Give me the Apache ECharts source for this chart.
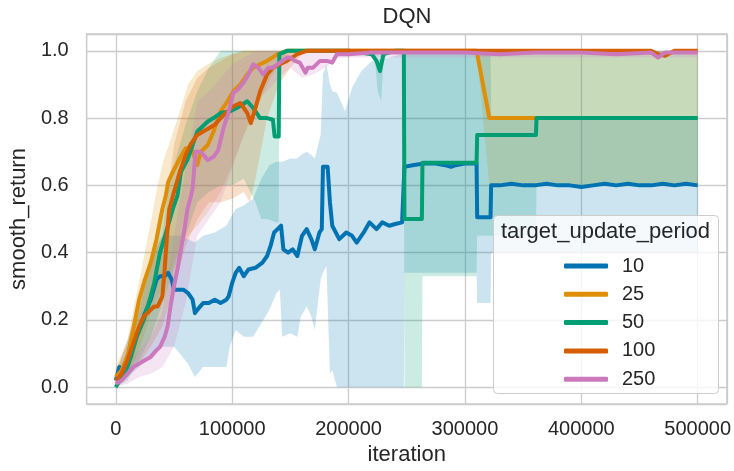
<!DOCTYPE html>
<html>
<head>
<meta charset="utf-8">
<script src="https://cdn.jsdelivr.net/npm/echarts@6/dist/echarts.min.js"></script>
<style>html,body{margin:0;padding:0;background:#fff}#c{width:734px;height:471px}</style>
</head>
<body>
<div id="c"></div>
<script>
// ---- data (iterations in thousands) ----
const seriesNames = ['10', '25', '50', '100', '250'];
const colors = ['#0173b2', '#de8f05', '#029e73', '#d55e00', '#cc78bc'];
const xTicks = [0, 100000, 200000, 300000, 400000, 500000];
const yTicks = [0.0, 0.2, 0.4, 0.6, 0.8, 1.0];

// target_update_period = 10
const x10k = [0,3,6,10,15,20,25,30,35,38,42,45,48,50,53,58,62,66,68,70,75,80,85,90,95,97,100,103,106,110,114,120,126,130,133,136,139,142,144,148,152,156,160,164,168,171,175,177,178,182,184,186,192,198,203,207,213,218,224,229,235,240,246,247.5,248,255,265,275,283,288,292,300,305,310,310.5,315,322,322.5,330,340,350,360,370,380,390,400,410,420,430,440,450,460,470,480,490,500];
const y10 = [0.02,0.06,0.05,0.09,0.13,0.17,0.22,0.26,0.32,0.33,0.33,0.34,0.32,0.29,0.29,0.29,0.28,0.26,0.22,0.23,0.25,0.25,0.26,0.25,0.26,0.27,0.31,0.34,0.355,0.33,0.35,0.355,0.37,0.39,0.42,0.46,0.47,0.48,0.41,0.40,0.41,0.39,0.45,0.47,0.44,0.41,0.46,0.47,0.655,0.655,0.55,0.48,0.44,0.46,0.45,0.43,0.46,0.49,0.47,0.49,0.48,0.485,0.49,0.495,0.655,0.66,0.665,0.665,0.66,0.655,0.66,0.665,0.665,0.665,0.505,0.505,0.505,0.60,0.60,0.605,0.60,0.60,0.605,0.60,0.60,0.595,0.60,0.605,0.60,0.605,0.60,0.60,0.605,0.60,0.605,0.60];
const bx10k = [0,10,20,30,40,50,55,62,68,75,85,95,98,103,110,118,125,132,138,141,143,150,156,159,164,168,171,176,178,181,184,186,190,197,203,211,220,235,245,247.5,248,310,310.5,322,322.5,500];
const hi10 = [0.04,0.14,0.25,0.38,0.45,0.45,0.45,0.44,0.43,0.45,0.46,0.48,0.50,0.53,0.54,0.56,0.62,0.66,0.67,0.67,0.67,0.68,0.68,0.69,0.70,0.69,0.68,0.75,0.93,0.96,0.90,0.88,0.875,0.82,0.89,0.94,0.97,0.98,0.99,0.99,1.0,1.0,1.0,1.0,0.8,0.8];
const lo10 = [0.0,0.03,0.06,0.09,0.12,0.12,0.10,0.07,0.03,0.06,0.06,0.06,0.12,0.17,0.15,0.15,0.19,0.23,0.28,0.29,0.15,0.16,0.15,0.21,0.24,0.21,0.17,0.32,0.34,0.36,0.04,0.05,0.0,0.0,0.0,0.0,0.0,0.0,0.0,0.0,0.34,0.34,0.25,0.25,0.40,0.40];

// target_update_period = 25
const x25k = [0,5,10,13,15,20,25,30,35,40,43,45,49,55,60,65,68,70,73,79,84,90,96,101,107,113,118,124,130,139,147,160,200,250,300,310,321,330,400,500];
const y25 = [0.03,0.05,0.09,0.14,0.17,0.26,0.32,0.37,0.44,0.53,0.57,0.61,0.64,0.68,0.71,0.71,0.68,0.66,0.70,0.72,0.76,0.82,0.85,0.88,0.90,0.93,0.95,0.96,0.97,0.99,1.0,1.0,1.0,1.0,1.0,1.0,0.80,0.80,0.80,0.80];
const bx25k = [0,10,15,21,30,36,41,47,56,62,70,79,90,100,110,120,130,140,150,160,310,321,500];
const hi25 = [0.06,0.14,0.23,0.33,0.49,0.60,0.675,0.735,0.83,0.90,0.94,0.96,0.98,0.99,1.0,1.0,1.0,1.0,1.0,1.0,1.0,1.0,1.0];
const lo25 = [0.0,0.03,0.07,0.12,0.22,0.27,0.30,0.34,0.42,0.45,0.48,0.52,0.58,0.66,0.75,0.82,0.90,0.96,0.99,1.0,1.0,0.60,0.60];

// target_update_period = 50
const x50k = [0,5,10,13,18,24,30,33,38,44,49,53,56,62,70,79,84,90,98,104,113,118,124,130,135,136.5,140,140.5,147,160,200,220,224,227,230,240,247.5,248,263,263.5,310,310.5,361,361.5,500];
const y50 = [0.0,0.03,0.06,0.09,0.15,0.20,0.27,0.31,0.40,0.47,0.53,0.57,0.64,0.68,0.76,0.79,0.80,0.815,0.82,0.83,0.85,0.83,0.80,0.80,0.795,0.745,0.745,0.99,1.0,1.0,1.0,0.99,0.97,0.94,0.99,1.0,1.0,0.50,0.50,0.667,0.667,0.75,0.75,0.80,0.80];
const bx50k = [0,10,20,30,40,50,60,70,80,90,100,110,120,125,130,138,140,140.5,150,222,225,228,230,235,247.5,248,263,263.5,310,310.5,361,361.5,500];
const hi50 = [0.04,0.10,0.22,0.38,0.53,0.66,0.78,0.88,0.95,1.0,1.0,1.0,1.0,1.0,1.0,1.0,1.0,1.0,1.0,1.0,1.0,1.0,1.0,1.0,1.0,1.0,1.0,1.0,1.0,1.0,1.0,1.0,1.0];
const lo50 = [0.0,0.02,0.08,0.15,0.25,0.35,0.45,0.55,0.58,0.60,0.60,0.62,0.55,0.50,0.50,0.49,0.49,0.97,1.0,1.0,0.88,0.85,0.97,1.0,1.0,0.0,0.0,0.33,0.33,0.45,0.45,0.60,0.60];

// target_update_period = 100
const x100k = [0,5,10,15,20,24,30,33,36,40,42,44,46,50,55,60,64,70,75,80,85,90,96,101,107,110,113,116,120,124,130,135,141,147,156,164,200,300,400,460,466,472,480,500];
const y100 = [0.02,0.04,0.08,0.13,0.18,0.21,0.23,0.24,0.24,0.27,0.35,0.45,0.53,0.58,0.64,0.69,0.72,0.75,0.76,0.77,0.78,0.80,0.82,0.835,0.845,0.83,0.815,0.785,0.83,0.88,0.93,0.95,0.96,0.97,0.99,1.0,1.0,1.0,1.0,1.0,0.99,0.985,1.0,1.0];
const bx100k = [0,10,20,30,40,50,60,70,80,90,100,110,115,120,130,140,150,160,170,500];
const hi100 = [0.05,0.13,0.28,0.38,0.45,0.72,0.85,0.92,0.95,0.97,0.99,1.0,1.0,1.0,1.0,1.0,1.0,1.0,1.0,1.0];
const lo100 = [0.0,0.03,0.07,0.12,0.18,0.30,0.42,0.50,0.55,0.55,0.56,0.58,0.55,0.62,0.80,0.90,0.95,0.99,1.0,1.0];

// target_update_period = 250
const x250k = [0,5,10,15,20,25,30,35,38,42,44.5,47,50,53,56,59,61.6,64,66,68.5,73,79,84,88,92.5,96.7,101,105,109.6,114,118,122.4,126.7,131,135,141,147,150,154,158,163,165,169.5,175.5,181.5,186,190,200,220,250,280,300,330,360,400,430,460,466,472,500];
const y250 = [0.01,0.02,0.04,0.06,0.07,0.08,0.09,0.11,0.12,0.15,0.18,0.24,0.30,0.35,0.41,0.47,0.53,0.56,0.59,0.70,0.70,0.675,0.685,0.705,0.77,0.815,0.875,0.885,0.905,0.93,0.96,0.95,0.93,0.95,0.95,0.965,0.98,0.98,0.97,0.965,0.935,0.95,0.95,0.97,0.97,0.965,0.99,0.99,0.995,0.995,0.995,0.995,0.99,0.995,0.995,0.99,0.995,0.98,0.995,0.995];
const bx250k = [0,10,20,30,40,50,60,70,80,90,100,110,120,130,140,150,160,170,180,190,200,500];
const hi250 = [0.03,0.07,0.11,0.15,0.22,0.45,0.65,0.85,0.88,0.92,0.96,0.98,1.0,1.0,1.0,1.0,1.0,1.0,1.0,1.0,1.0,1.0];
const lo250 = [0.0,0.01,0.03,0.04,0.06,0.12,0.25,0.45,0.50,0.55,0.65,0.75,0.85,0.88,0.92,0.95,0.92,0.93,0.95,0.98,0.98,0.98];

// ---- build ----
const lines = [[x10k, y10], [x25k, y25], [x50k, y50], [x100k, y100], [x250k, y250]];
const bands = [[bx10k, lo10, hi10], [bx25k, lo25, hi25], [bx50k, lo50, hi50], [bx100k, lo100, hi100], [bx250k, lo250, hi250]];
const FONT = "'Liberation Sans', Arial, sans-serif";
const TXT = '#262626';

function bandSeries(b, color) {
  const xs = b[0], lo = b[1], hi = b[2];
  return {
    type: 'custom', coordinateSystem: 'cartesian2d', silent: true, z: 1,
    data: [[xs[0] * 1000, lo[0]]], encode: { x: 0, y: 1 },
    renderItem: function (params, api) {
      const pts = [];
      for (let i = 0; i < xs.length; i++) pts.push(api.coord([xs[i] * 1000, hi[i]]));
      for (let i = xs.length - 1; i >= 0; i--) pts.push(api.coord([xs[i] * 1000, lo[i]]));
      return { type: 'polygon', shape: { points: pts }, style: { fill: color, opacity: 0.2 } };
    }
  };
}
const series = [];
bands.forEach((b, i) => series.push(bandSeries(b, colors[i])));
lines.forEach((l, i) => series.push({
  type: 'line', name: seriesNames[i], z: 3,
  data: l[0].map((x, j) => [x * 1000, l[1][j]]),
  symbol: 'none', showSymbol: false,
  lineStyle: { color: colors[i], width: 4, join: 'round' },
  itemStyle: { color: colors[i] }
}));

const chart = echarts.init(document.getElementById('c'), null, { renderer: 'canvas' });
chart.setOption({
  animation: false,
  grid: { left: 85, right: 5, top: 34, bottom: 67, show: true, borderColor: '#cccccc', borderWidth: 1.3, backgroundColor: 'transparent' },
  xAxis: {
    type: 'value', min: -25000, max: 525000, splitNumber: 5,
    name: 'iteration', nameLocation: 'middle', nameGap: 40,
    nameTextStyle: { fontSize: 22, color: TXT, fontFamily: FONT },
    axisLine: { show: false }, axisTick: { show: false },
    axisLabel: { fontSize: 20, color: TXT, fontFamily: FONT, margin: 15, showMinLabel: false, showMaxLabel: false,
      formatter: v => (xTicks.indexOf(v) >= 0 ? String(v) : '') },
    splitLine: { show: true, lineStyle: { color: '#cccccc', width: 1.3 } }
  },
  yAxis: {
    type: 'value', min: -0.05, max: 1.05, splitNumber: 5,
    name: 'smooth_return', nameLocation: 'middle', nameGap: 52,
    nameTextStyle: { fontSize: 22, color: TXT, fontFamily: FONT },
    axisLine: { show: false }, axisTick: { show: false },
    axisLabel: { fontSize: 20, color: TXT, fontFamily: FONT, margin: 18, showMinLabel: false, showMaxLabel: false,
      formatter: v => (yTicks.some(t => Math.abs(t - v) < 1e-9) ? v.toFixed(1) : '') },
    splitLine: { show: true, lineStyle: { color: '#cccccc', width: 1.3 } }
  },
  legend: {
    data: seriesNames.map(n => ({ name: n, icon: 'roundRect' })),
    orient: 'vertical', left: 559, top: 251, z: 60,
    itemWidth: 44, itemHeight: 5, itemGap: 8.3,
    textStyle: { fontSize: 20, color: TXT, fontFamily: FONT, lineHeight: 20, padding: [0, 0, 0, 9] }
  },
  graphic: [
    { type: 'rect', z: 50, shape: { x: 493.5, y: 215.5, width: 225, height: 178, r: 4 },
      style: { fill: 'rgba(255,255,255,0.8)', stroke: '#cccccc', lineWidth: 1 } },
    { type: 'text', z: 51, x: 605.5, y: 232,
      style: { text: 'target_update_period', fontSize: 22, fontFamily: FONT, fill: TXT, align: 'center', verticalAlign: 'middle' } },
    { type: 'text', z: 51, x: 407, y: 17,
      style: { text: 'DQN', fontSize: 22, fontFamily: FONT, fill: TXT, align: 'center', verticalAlign: 'middle' } }
  ],
  series: series
});
</script>
</body>
</html>
